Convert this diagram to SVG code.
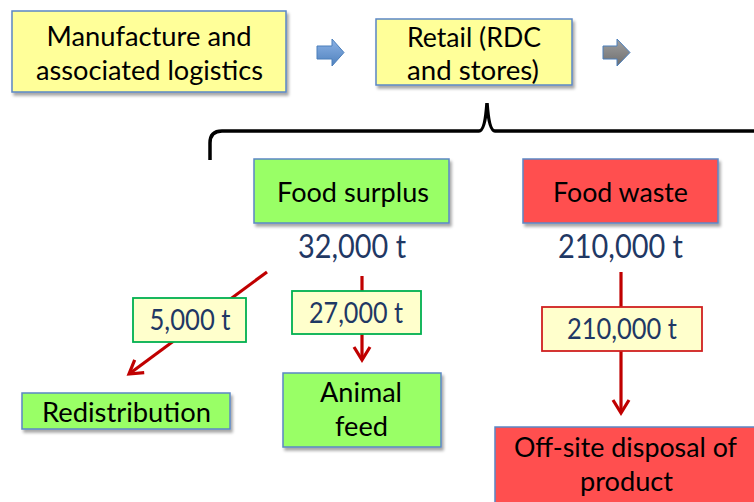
<svg xmlns="http://www.w3.org/2000/svg" width="754" height="502" viewBox="0 0 754 502">
<defs>
<filter id="sh" x="-10%" y="-10%" width="130%" height="140%">
<feDropShadow dx="2" dy="3" stdDeviation="1.8" flood-color="#000" flood-opacity="0.35"/>
</filter>
<marker id="ah" markerUnits="userSpaceOnUse" viewBox="-16 -11 20 22" markerWidth="20" markerHeight="22" refX="0" refY="0" orient="auto">
<path d="M-13,-8 L0,0 L-13,8" fill="none" stroke="#C00000" stroke-width="3.2" stroke-linejoin="miter" stroke-linecap="butt"/>
</marker>
<linearGradient id="bg" x1="0" y1="0" x2="0" y2="1">
<stop offset="0" stop-color="#8DB3E6"/>
<stop offset="1" stop-color="#4F81BD"/>
</linearGradient>
<linearGradient id="gg" x1="0" y1="0" x2="0" y2="1">
<stop offset="0" stop-color="#A0A0A0"/>
<stop offset="1" stop-color="#6E6E6E"/>
</linearGradient>
</defs>
<style>
.box{stroke:#5B87C5;stroke-width:1.5;filter:url(#sh)}
.yel{fill:#FFFF99}
.grn{fill:#99FF66}
.red{fill:#FF5050}
.lbl{fill:#FFFFCC;stroke-width:1.8}
.t{font-family:Lato,"Open Sans","Liberation Sans",sans-serif;font-size:27px;fill:#000;text-anchor:middle}
.n{font-family:Lato,"Open Sans","Liberation Sans",sans-serif;fill:#1F3864;text-anchor:middle}
.big{font-size:32px}
.sm{font-size:28px}
.ln{stroke:#C00000;stroke-width:3.2;fill:none}
</style>
<rect width="754" height="502" fill="#FFFFFF"/>

<g id="connectors">
<polygon points="317,46 332,46 332,39 344,52.5 332,66 332,59 317,59" fill="url(#bg)" stroke="#4A7EBB" stroke-width="1"/>
<polygon points="603,46 617,46 617,39 630,52.5 617,66 617,59 603,59" fill="url(#gg)" stroke="#4A7EBB" stroke-width="1"/>
<path d="M210,160 L210,143 Q210,131 222,131 L479,131 Q485,131 487,103 Q489,131 495,131 L756,131" fill="none" stroke="#000" stroke-width="3.5"/>
<line class="ln" x1="267" y1="272" x2="129" y2="374" marker-end="url(#ah)"/>
<line class="ln" x1="362" y1="276" x2="362" y2="360" marker-end="url(#ah)"/>
<line class="ln" x1="621" y1="272" x2="621" y2="413" marker-end="url(#ah)"/>
</g>

<g id="manufacture">
<rect class="box yel" x="12" y="11" width="274" height="81"/>
<text class="t" x="149" y="46" textLength="205" lengthAdjust="spacingAndGlyphs">Manufacture and</text>
<text class="t" x="149.5" y="80" textLength="227" lengthAdjust="spacingAndGlyphs">associated logistics</text>
</g>

<g id="retail">
<rect class="box yel" x="376" y="19" width="196" height="66"/>
<text class="t" x="474" y="47" textLength="134" lengthAdjust="spacingAndGlyphs">Retail (RDC</text>
<text class="t" x="473" y="80" textLength="132" lengthAdjust="spacingAndGlyphs">and stores)</text>
</g>

<g id="food-surplus">
<rect class="box grn" x="254" y="159" width="195" height="64"/>
<text class="t" x="353" y="202" textLength="152" lengthAdjust="spacingAndGlyphs">Food surplus</text>
<text class="n big" x="352" y="258" textLength="108" lengthAdjust="spacingAndGlyphs">32,000 t</text>
</g>

<g id="food-waste">
<rect class="box red" x="523" y="159" width="195" height="64"/>
<text class="t" x="620.5" y="202" textLength="135" lengthAdjust="spacingAndGlyphs">Food waste</text>
<text class="n big" x="620.5" y="258" textLength="125" lengthAdjust="spacingAndGlyphs">210,000 t</text>
</g>

<g id="label-5000">
<rect class="lbl" x="133" y="298" width="113" height="44" stroke="#00B050"/>
<text class="n sm" x="190" y="330" textLength="81" lengthAdjust="spacingAndGlyphs">5,000 t</text>
</g>

<g id="label-27000">
<rect class="lbl" x="292" y="291" width="129" height="43" stroke="#00B050"/>
<text class="n sm" x="356" y="323" textLength="94" lengthAdjust="spacingAndGlyphs">27,000 t</text>
</g>

<g id="label-210000">
<rect class="lbl" x="542" y="307" width="160" height="44" stroke="#D02020"/>
<text class="n sm" x="622" y="339" textLength="110" lengthAdjust="spacingAndGlyphs">210,000 t</text>
</g>

<g id="redistribution">
<rect class="box grn" x="22" y="393" width="208" height="36"/>
<text class="t" x="126.5" y="422" textLength="169" lengthAdjust="spacingAndGlyphs">Redistribution</text>
</g>

<g id="animal-feed">
<rect class="box grn" x="283" y="373" width="158" height="74"/>
<text class="t" x="361" y="402" textLength="82" lengthAdjust="spacingAndGlyphs">Animal</text>
<text class="t" x="361.5" y="436" textLength="53" lengthAdjust="spacingAndGlyphs">feed</text>
</g>

<g id="offsite-disposal">
<rect class="box red" x="495" y="427" width="262" height="80"/>
<text class="t" x="625.5" y="457" textLength="223" lengthAdjust="spacingAndGlyphs">Off-site disposal of</text>
<text class="t" x="626.5" y="491" textLength="93" lengthAdjust="spacingAndGlyphs">product</text>
</g>
</svg>
